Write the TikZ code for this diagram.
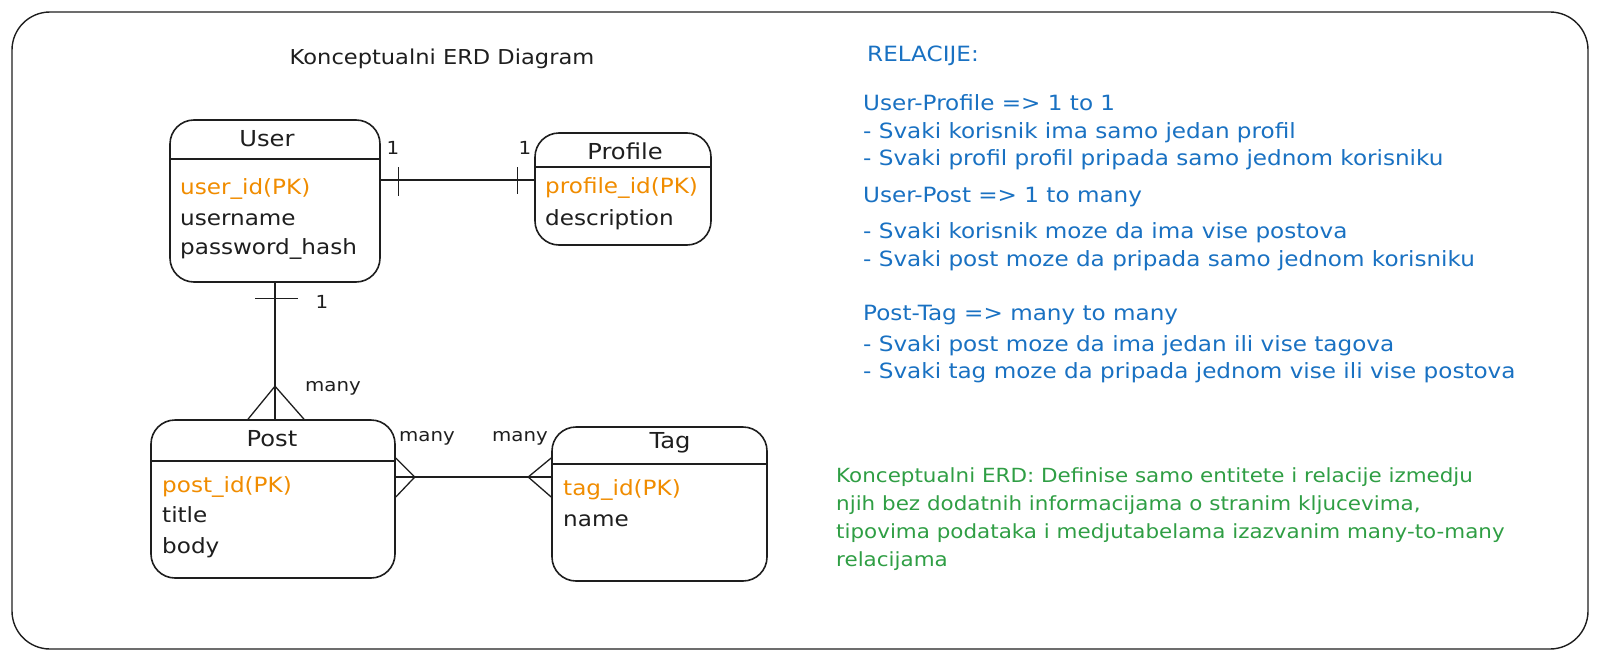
\documentclass[tikz,border=0pt]{standalone}
\usepackage{fontspec}
\setmainfont[FakeStretch=1.1]{DejaVu Sans}
\usetikzlibrary{calc}
\definecolor{ink}{HTML}{1E1E1E}
\definecolor{orng}{HTML}{F08C00}
\definecolor{blu}{HTML}{1971C2}
\definecolor{grn}{HTML}{2F9E44}

\begin{document}
\begin{tikzpicture}[
      x=1pt, y=-1pt,
      entity/.style={draw=ink, line width=1.6pt, rounded corners=24pt, inner sep=0pt},
      ename/.style={font=\fontsize{22}{24}\selectfont, text=ink},
      attr/.style={anchor=west, inner sep=0pt, text height=14pt, text depth=5pt,
        font=\fontsize{21}{24}\selectfont, text=ink},
      pk/.style={attr, text=orng},
      rel/.style={draw=ink, line width=1.3pt},
      card/.style={font=\fontsize{18}{22}\selectfont, text=ink},
      blunote/.style={attr, text=blu},
      grnnote/.style={attr, text=grn, font=\fontsize{19.5}{24}\selectfont}
    ]
    \useasboundingbox (0,0) rectangle (1600,661);
    \draw[ink, line width=1.4pt, rounded corners=38pt] (12,12) rectangle (1588,649);

    \node[ename, font=\fontsize{20.5}{24}\selectfont] (title) at (442,59) {Konceptualni ERD Diagram};

    % entities
    \node[entity, minimum width=210, minimum height=162] (user) at (275,201) {};
    \node[entity, minimum width=176, minimum height=112] (prof) at (623,189) {};
    \node[entity, minimum width=244, minimum height=158] (post) at (273,499) {};
    \node[entity, minimum width=215, minimum height=154] (tag) at (659.5,504) {};

    \draw[rel, line width=1.6pt] (user.west |- 0,159) -- (user.east |- 0,159);
    \draw[rel, line width=1.6pt] (prof.west |- 0,167) -- (prof.east |- 0,167);
    \draw[rel, line width=1.6pt] (post.west |- 0,461) -- (post.east |- 0,461);
    \draw[rel, line width=1.6pt] (tag.west |- 0,464) -- (tag.east |- 0,464);

    \node[ename] (usern) at (267,139) {User};
    \node[ename] (profn) at (625,151) {Profile};
    \node[ename] (postn) at (272,439) {Post};
    \node[ename] (tagn) at (670,443) {Tag};

    \node[pk] (uid) at (180,190) {user\_id(PK)};
    \node[attr] (uname) at (180,221) {username};
    \node[attr] (upass) at (180,250) {password\_hash};

    \node[pk] (pid) at (545,189) {profile\_id(PK)};
    \node[attr] (pdesc) at (545,221) {description};

    \node[pk] (poid) at (162,488) {post\_id(PK)};
    \node[attr] (potitle) at (162,518) {title};
    \node[attr] (pobody) at (162,549) {body};

    \node[pk] (tid) at (563,491) {tag\_id(PK)};
    \node[attr] (tname) at (563,522) {name};

    % user - profile
    \coordinate (up1) at ([yshift=21pt]user.east);
    \coordinate (up2) at (up1 -| prof.west);
    \draw[rel] (up1) -- (up2);
    \draw[rel] ($(up1)+(18,-13)$) -- ++(0,29);
    \draw[rel] ($(up2)+(-17,-13)$) -- ++(0,27);
    \node[card] (c1) at (393,148) {1};
    \node[card] (c2) at (525,148) {1};

    % user - post
    \coordinate (us1) at (user.south);
    \coordinate (us2) at (user.south |- post.north);
    \draw[rel] (us1) -- (us2);
    \draw[rel] ($(us1)+(-20,16)$) -- ++(43,0);
    \draw[rel] ($(us2)+(-27,0)$) -- ($(us2)+(0,-33)$) -- ($(us2)+(29,0)$);
    \node[card] (c3) at (322,302) {1};
    \node[card] (c4) at (333,388) {many};

    % post - tag
    \coordinate (pt1) at ([yshift=22pt]post.east);
    \coordinate (pt2) at (pt1 -| tag.west);
    \draw[rel] (pt1) -- (pt2);
    \draw[rel] ($(pt1)+(0,-19)$) -- ($(pt1)+(19,0)$) -- ($(pt1)+(0,20)$);
    \draw[rel] ($(pt2)+(0,-19)$) -- ($(pt2)+(-23,0)$) -- ($(pt2)+(0,20)$);
    \node[card] (c5) at (427,438) {many};
    \node[card] (c6) at (520,438) {many};

    % relacije
    \node[blunote] (r0) at (867,57) {RELACIJE:};
    \node[blunote] (r1) at (863,106) {User-Profile => 1 to 1};
    \node[blunote] (r2) at (863,134) {- Svaki korisnik ima samo jedan profil};
    \node[blunote] (r3) at (863,161) {- Svaki profil profil pripada samo jednom korisniku};
    \node[blunote] (r4) at (863,198) {User-Post => 1 to many};
    \node[blunote] (r5) at (863,234) {- Svaki korisnik moze da ima vise postova};
    \node[blunote] (r6) at (863,262) {- Svaki post moze da pripada samo jednom korisniku};
    \node[blunote] (r7) at (863,316) {Post-Tag => many to many};
    \node[blunote] (r8) at (863,347) {- Svaki post moze da ima jedan ili vise tagova};
    \node[blunote] (r9) at (863,374) {- Svaki tag moze da pripada jednom vise ili vise postova};

    \node[grnnote] (g1) at (836,478) {Konceptualni ERD: Definise samo entitete i relacije izmedju};
    \node[grnnote] (g2) at (836,506) {njih bez dodatnih informacijama o stranim kljucevima,};
    \node[grnnote] (g3) at (836,534) {tipovima podataka i medjutabelama izazvanim many-to-many};
    \node[grnnote] (g4) at (836,562) {relacijama};
  \end{tikzpicture}
\end{document}
